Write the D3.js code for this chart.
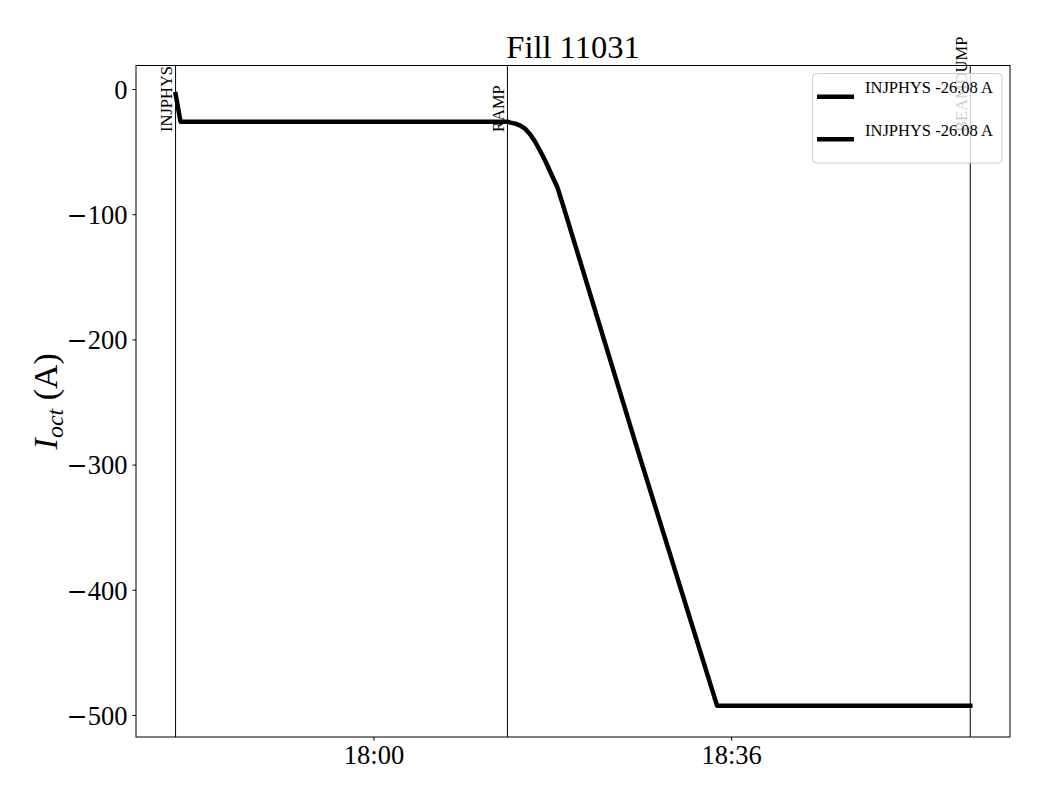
<!DOCTYPE html>
<html>
<head>
<meta charset="utf-8">
<script src="https://cdn.jsdelivr.net/npm/d3@7"></script>
<style>
  html, body { margin: 0; padding: 0; background: #fff; }
  svg { display: block; font-family: "Liberation Serif", "DejaVu Serif", serif; }
</style>
</head>
<body>
<svg id="chart" width="1040" height="800"></svg>
<script>
// ---- data ----
const title = "Fill 11031";
const times = ["17:40:05","17:40:35","18:13:29","18:13:47","18:14:17","18:14:47","18:15:17","18:15:47","18:16:17","18:16:47","18:17:18","18:17:48","18:18:30","18:19:01","18:26:30","18:34:35","19:00:04"];
const values = [-4.0, -26.1, -26.1, -26.8, -27.6, -29.2, -31.9, -36.3, -42.3, -49.5, -57.5, -66.3, -78.3, -91.1, -286.0, -492.6, -492.6];
const eventNames = ["INJPHYS", "RAMP", "BEAMDUMP"];
const eventTimes = ["17:40:05", "18:13:29", "19:00:04"];
const legendLabels = ["INJPHYS -26.08 A", "INJPHYS -26.08 A"];
const xTickTimes = ["18:00:00", "18:36:00"];
const yTicks = [0, -100, -200, -300, -400, -500];
const xDomainTimes = ["17:36:06", "19:04:04"];
const yDomain = [-517.6, 18.8];

// ---- helpers ----
const parse = s => d3.timeParse("%Y-%m-%d %H:%M:%S")("2025-01-01 " + s);

const svg = d3.select("#chart");
const m = { left: 136, right: 1010, top: 65.5, bottom: 737 };

const x = d3.scaleTime().domain(xDomainTimes.map(parse)).range([m.left, m.right]);
const y = d3.scaleLinear().domain(yDomain).range([m.bottom, m.top]);

const data = times.map((t, i) => ({ t: parse(t), v: values[i] }));

// clip
svg.append("defs").append("clipPath").attr("id", "clip")
  .append("rect").attr("x", m.left).attr("y", m.top)
  .attr("width", m.right - m.left).attr("height", m.bottom - m.top);

// vertical event lines
const ev = svg.append("g");
eventNames.forEach((name, i) => {
  const xp = x(parse(eventTimes[i]));
  ev.append("line")
    .attr("x1", xp).attr("x2", xp).attr("y1", m.top).attr("y2", m.bottom)
    .attr("stroke", "#000").attr("stroke-width", 1);
});

// main line
svg.append("path")
  .datum(data)
  .attr("clip-path", "url(#clip)")
  .attr("fill", "none")
  .attr("stroke", "#000")
  .attr("stroke-width", 4.5)
  .attr("stroke-linejoin", "round")
  .attr("stroke-linecap", "square")
  .attr("d", d3.line().x(d => x(d.t)).y(d => y(d.v)));

// event labels
eventNames.forEach((name, i) => {
  const xp = x(parse(eventTimes[i])) - 3.5;
  svg.append("text")
    .attr("transform", `translate(${xp},132) rotate(-90)`)
    .attr("font-size", 16.5)
    .attr("fill", "#000")
    .attr("text-anchor", "start")
    .text(name);
});

// axes frame
svg.append("rect")
  .attr("x", m.left).attr("y", m.top)
  .attr("width", m.right - m.left).attr("height", m.bottom - m.top)
  .attr("fill", "none").attr("stroke", "#000").attr("stroke-width", 1);

// x axis
const xAxis = d3.axisBottom(x)
  .tickValues(xTickTimes.map(parse))
  .tickFormat(d3.timeFormat("%H:%M"))
  .tickSize(3.5).tickPadding(5);
const gx = svg.append("g").attr("transform", `translate(0,${m.bottom})`).call(xAxis);
gx.select(".domain").remove();
gx.selectAll("text").attr("font-size", 26.5).attr("font-family", "Liberation Serif").attr("fill", "#000");
gx.selectAll("line").attr("stroke", "#000");

// y axis
const yAxis = d3.axisLeft(y)
  .tickValues(yTicks)
  .tickFormat("")
  .tickSize(3.5).tickPadding(5);
const gy = svg.append("g").attr("transform", `translate(${m.left},0)`).call(yAxis);
gy.select(".domain").remove();
gy.selectAll("line").attr("stroke", "#000");
gy.selectAll(".tick").each(function(d) {
  const t = d3.select(this).select("text")
    .attr("font-size", 26.5).attr("font-family", "Liberation Serif")
    .attr("fill", "#000").attr("dy", "0.35em").text(null);
  if (d < 0) t.append("tspan").attr("font-family", "DejaVu Serif").attr("font-size", 25).text("\u2212");
  t.append("tspan").text(String(Math.abs(d)));
});

// title
svg.append("text")
  .attr("x", (m.left + m.right) / 2).attr("y", 57.5)
  .attr("text-anchor", "middle")
  .attr("font-size", 32.5)
  .attr("fill", "#000")
  .text(title);

// y label
const yl = svg.append("text")
  .attr("transform", `translate(57,${(m.top + m.bottom) / 2}) rotate(-90)`)
  .attr("text-anchor", "middle")
  .attr("font-size", 34)
  .attr("fill", "#000");
yl.append("tspan").attr("font-style", "italic").text("I");
yl.append("tspan").attr("font-style", "italic").attr("font-size", 24).attr("dy", 6).text("oct");
yl.append("tspan").attr("dy", -6).text("\u00a0(A)");

// legend
const lg = svg.append("g");
lg.append("rect")
  .attr("x", 812.5).attr("y", 73.5).attr("width", 189.5).attr("height", 89.5)
  .attr("rx", 4).attr("ry", 4)
  .attr("fill", "#fff").attr("fill-opacity", 0.8)
  .attr("stroke", "#ccc").attr("stroke-width", 1);
legendLabels.forEach((lab, i) => {
  const ly = 96.8 + i * 42.5;
  lg.append("line")
    .attr("x1", 817).attr("x2", 854).attr("y1", ly).attr("y2", ly)
    .attr("stroke", "#000").attr("stroke-width", 4.5);
  lg.append("text")
    .attr("x", 865).attr("y", 93.3 + i * 42.7)
    .attr("font-size", 16.5).attr("fill", "#000")
    .text(lab);
});
</script>
</body>
</html>
